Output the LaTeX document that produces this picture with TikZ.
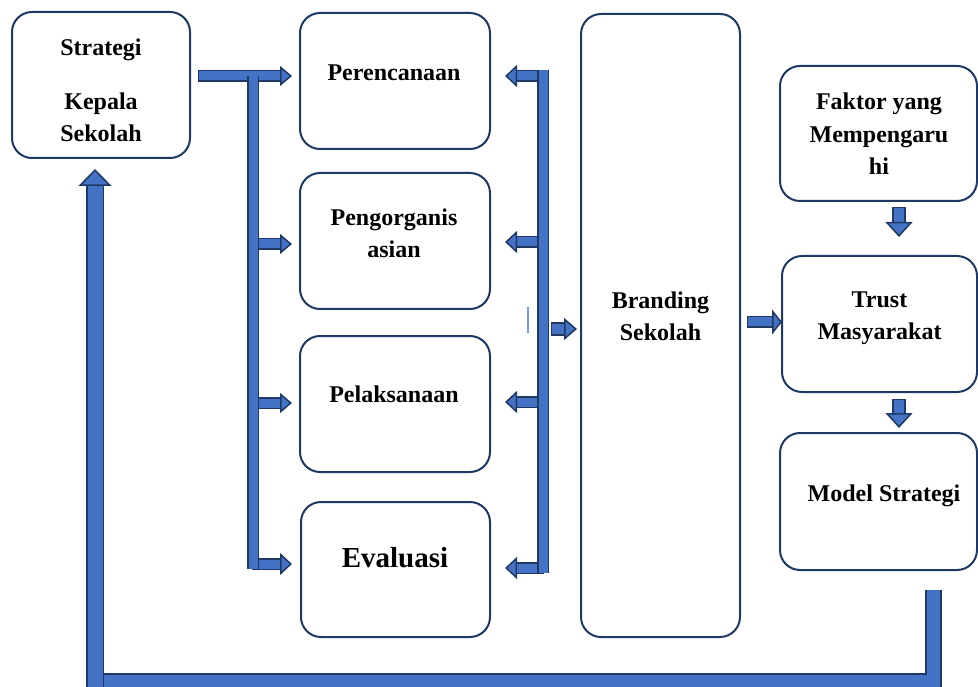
\documentclass[tikz,border=0pt]{standalone}
\usepackage{fontspec}
\setmainfont{Liberation Serif}
\usetikzlibrary{arrows.meta,calc}
\definecolor{boxc}{HTML}{1F3864}
\definecolor{barfill}{HTML}{4472C4}
\definecolor{bardark}{HTML}{1F3864}
\definecolor{thinblue}{HTML}{6F9BE0}
\tikzset{
  box/.style n args={2}{draw=boxc, line width=2pt, rounded corners=20pt,
     minimum width=#1, minimum height=#2, inner sep=0pt, outer sep=0pt},
  lbl/.style={font=\bfseries\fontsize{24}{32.5}\selectfont, align=center, anchor=base, inner sep=0pt},
  bar/.style={draw=barfill, line width=#1, line join=miter,
     preaction={draw=bardark, line width=#1+3.5pt, line join=miter}},
  barrow/.style n args={3}{draw=barfill, line width=#1,
     -{Triangle[width=#2,length=#3,fill=barfill,color=bardark,line width=1.5pt]},
     preaction={draw=bardark, line width=#1+3.5pt, -, shorten >=#3-1pt, shorten <=-1pt}},
  thinline/.style={draw=thinblue, line width=1.2pt}
}
\begin{document}
\begin{tikzpicture}[x=1pt,y=-1pt]
\useasboundingbox (0,0) rectangle (978,687);
\clip (0,0) rectangle (978,687);
% boxes
\node[box={178pt}{146pt}] (ks) at (101,85) {};
\node[box={190pt}{136pt}] (per) at (395,81) {};
\node[box={190pt}{136pt}] (org) at (395,241) {};
\node[box={190pt}{136pt}] (pel) at (395,404) {};
\node[box={189pt}{135pt}] (eva) at (395.5,569.5) {};
\node[box={159pt}{623pt}] (brand) at (660.5,325.5) {};
\node[box={197pt}{135pt}] (fak) at (878.5,133.5) {};
\node[box={195pt}{136pt}] (trust) at (879.5,324) {};
\node[box={197pt}{137pt}] (model) at (878.5,501.5) {};
% labels (anchor base = baseline of last line)
\node[lbl] (ksT) at (101,142) {Strategi\\[21.5pt]Kepala\\Sekolah};
\node[lbl] (perT) at (394,81) {Perencanaan};
\node[lbl] (orgT) at (394,258) {Pengorganis\\asian};
\node[lbl] (pelT) at (394,402) {Pelaksanaan};
\node[lbl, font=\bfseries\fontsize{29}{34}\selectfont] (evaT) at (395,567) {Evaluasi};
\node[lbl] (brandT) at (660.5,341) {Branding\\Sekolah};
\node[lbl] (fakT) at (879,175) {Faktor yang\\Mempengaru\\hi};
\node[lbl] (trustT) at (879.5,340) {Trust\\Masyarakat};
\node[lbl] (modelT) at (884,501) {Model Strategi};
% left distribution
\coordinate (L0) at (199,76);
\coordinate (L1) at (253,76);
\coordinate (L2) at (253,244);
\coordinate (L3) at (253,403);
\coordinate (L4) at (253,564);
\coordinate (L5) at (253,569);
\draw[barrow={9pt}{20pt}{12pt}] (L0) -- ($(L0 -| per.west)+(-8,0)$);
\draw[barrow={9pt}{20pt}{12pt}] (L2) -- ($(L2 -| org.west)+(-8,0)$);
\draw[barrow={9pt}{20pt}{12pt}] (L3) -- ($(L3 -| pel.west)+(-8,0)$);
\draw[barrow={9pt}{22pt}{12pt}] (L4) -- ($(L4 -| eva.west)+(-9,0)$);
\draw[bar={9pt}] (L1) -- (L5);
% right distribution
\coordinate (R1) at (543,76);
\coordinate (R2) at (543,242);
\coordinate (R3) at (543,402);
\coordinate (R4) at (543,568);
\coordinate (R0) at (543,70);
\coordinate (R5) at (543,573);
\draw[barrow={9pt}{22pt}{12pt}] (R1) -- ($(R1 -| per.east)+(15,0)$);
\draw[barrow={9pt}{22pt}{12pt}] (R2) -- ($(R2 -| org.east)+(15,0)$);
\draw[barrow={9pt}{22pt}{12pt}] (R3) -- ($(R3 -| pel.east)+(15,0)$);
\draw[barrow={9pt}{22pt}{12pt}] (R4) -- ($(R4 -| eva.east)+(15,0)$);
\draw[bar={9pt}] (R0) -- (R5);
\coordinate (B0) at (552,329);
\draw[barrow={10pt}{22pt}{13pt}] (B0) -- ($(B0 -| brand.west)+(-4,0)$);
\coordinate (T0) at (528,307);
\coordinate (T1) at (528,333);
\draw[thinline] (T0) -- (T1);
% right column
\coordinate (C0) at (748,322);
\draw[barrow={9pt}{25pt}{10pt}] (C0) -- (C0 -| trust.west);
\coordinate (D0) at (899,208);
\draw[barrow={10pt}{27pt}{15pt}] (D0) -- ($(D0 |- trust.north)+(0,-19)$);
\coordinate (D1) at (899,400);
\draw[barrow={10pt}{27pt}{15pt}] (D1) -- ($(D1 |- model.north)+(0,-5)$);
% feedback loop
\coordinate (F0) at (933.5,590);
\coordinate (F1) at (933.5,681);
\coordinate (F2) at (95,681);
\coordinate (F3) at (95,700);
\draw[bar={13pt}] (F0) -- (F1) -- (F2);
\draw[barrow={15pt}{33pt}{17pt}] (F3) -- ($(F3 |- ks.south)+(0,11)$);
\end{tikzpicture}
\end{document}
